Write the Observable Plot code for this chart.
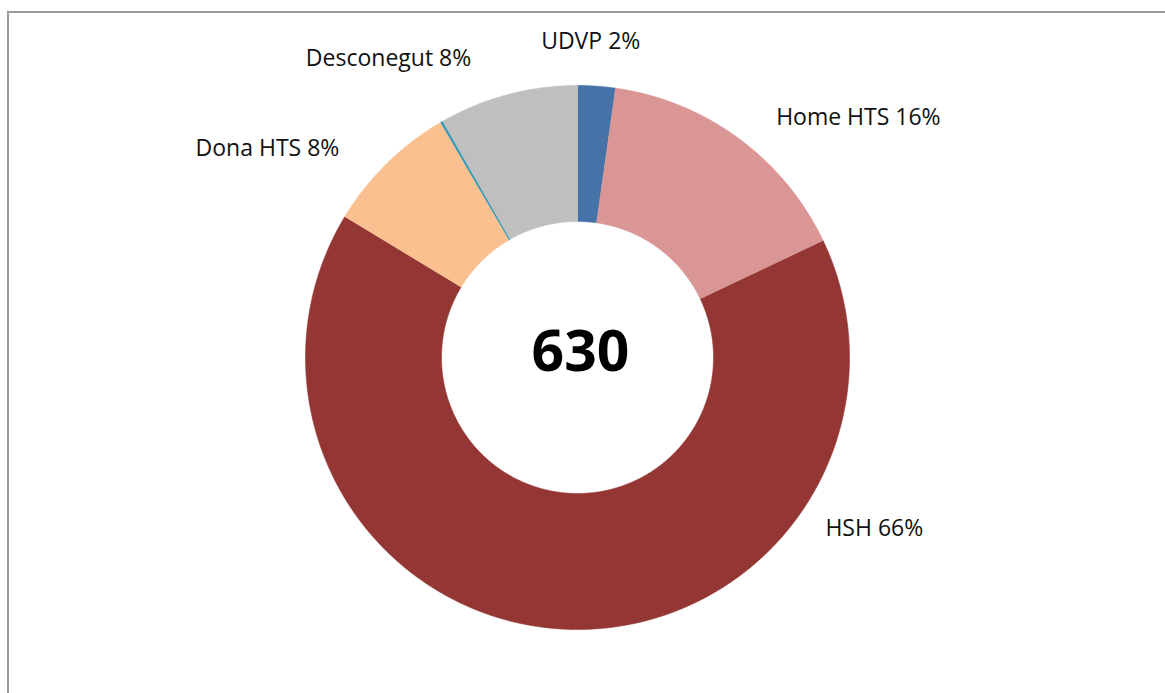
<!DOCTYPE html>
<html><head><meta charset="utf-8">
<script src="https://cdn.jsdelivr.net/npm/d3@7"></script>
<script src="https://cdn.jsdelivr.net/npm/@observablehq/plot@0.6"></script>
<style>
html,body{margin:0;padding:0;background:#fff;overflow:hidden}
#wrap{position:relative;width:1165px;height:693px}
#frame{position:absolute;left:7px;top:11px;right:-5px;bottom:-5px;border-left:2px solid #9a9a9a;border-top:2px solid #9a9a9a;z-index:2;pointer-events:none}
#wrap svg{position:absolute;left:0;top:0;z-index:1}
</style></head><body><div id="wrap"><div id="frame"></div></div>
<script>
// ---- data ----
const categories = ["UDVP", "Home HTS", "HSH", "Dona HTS", "Altres", "Desconegut"];
const counts = [14, 99, 414, 50, 1, 52];
const showLabel = [true, true, true, true, false, true];
const total = 630;
const colors = ["#4572a7", "#d99694", "#943634", "#fac090", "#3a9bb5", "#bfbfbf"];

// ---- layout (not data) ----
const W = 1165, H = 693, CX = 577, CY = 357, R = 272;
const innerRatio = 0.5;
// label placement: angle (deg, clockwise from top) and radius (in outer-radius units)
const labelPlacement = {
  "UDVP": [2.4, 1.163],
  "Home HTS": [49.5, 1.358],
  "HSH": [120, 1.26],
  "Dona HTS": [304, 1.375],
  "Desconegut": [327.7, 1.30]
};

const rows = categories.map((c, i) => ({key: c, count: counts[i], show: showLabel[i]}));
const arcs = d3.pie().sort(null).value(d => d.count).startAngle(0).endAngle(2 * Math.PI)(rows);

const pts = [];
for (const a of arcs) {
  const n = Math.max(2, Math.ceil((a.endAngle - a.startAngle) / 0.004));
  for (let k = 0; k <= n; k++) {
    const t = a.startAngle + (a.endAngle - a.startAngle) * k / n;
    pts.push({key: a.data.key, x: Math.sin(t), y: Math.cos(t)});
  }
  for (let k = n; k >= 0; k--) {
    const t = a.startAngle + (a.endAngle - a.startAngle) * k / n;
    pts.push({key: a.data.key, x: innerRatio * Math.sin(t), y: innerRatio * Math.cos(t)});
  }
}

const labels = rows.filter(d => d.show).map(d => {
  const [ang, r] = labelPlacement[d.key];
  const t = ang * Math.PI / 180;
  return {text: `${d.key} ${Math.round(d.count / total * 100)}%`, x: r * Math.sin(t), y: r * Math.cos(t)};
});

const chart = Plot.plot({
  width: W, height: H, margin: 0,
  style: {fontFamily: "'Open Sans', sans-serif", background: "transparent"},
  x: {domain: [-CX / R, (W - CX) / R], range: [0, W], axis: null},
  y: {domain: [CY / R, -(H - CY) / R], range: [0, H], axis: null},
  color: {domain: categories, range: colors},
  marks: [
    Plot.line(pts, {x: "x", y: "y", z: "key", fill: "key", stroke: "key", strokeWidth: 0.6, curve: "linear"}),
    Plot.text(labels, {x: "x", y: "y", text: "text", fontSize: 23, fill: "#111", textAnchor: "middle", lineAnchor: "middle"}),
    Plot.text([String(total)], {x: () => 0, y: () => 0, text: d => d, dx: 3, dy: -5, fontSize: 57, fontWeight: "bold", fill: "#000", textAnchor: "middle", lineAnchor: "middle"})
  ]
});
document.getElementById("wrap").appendChild(chart);
</script>
</body></html>
